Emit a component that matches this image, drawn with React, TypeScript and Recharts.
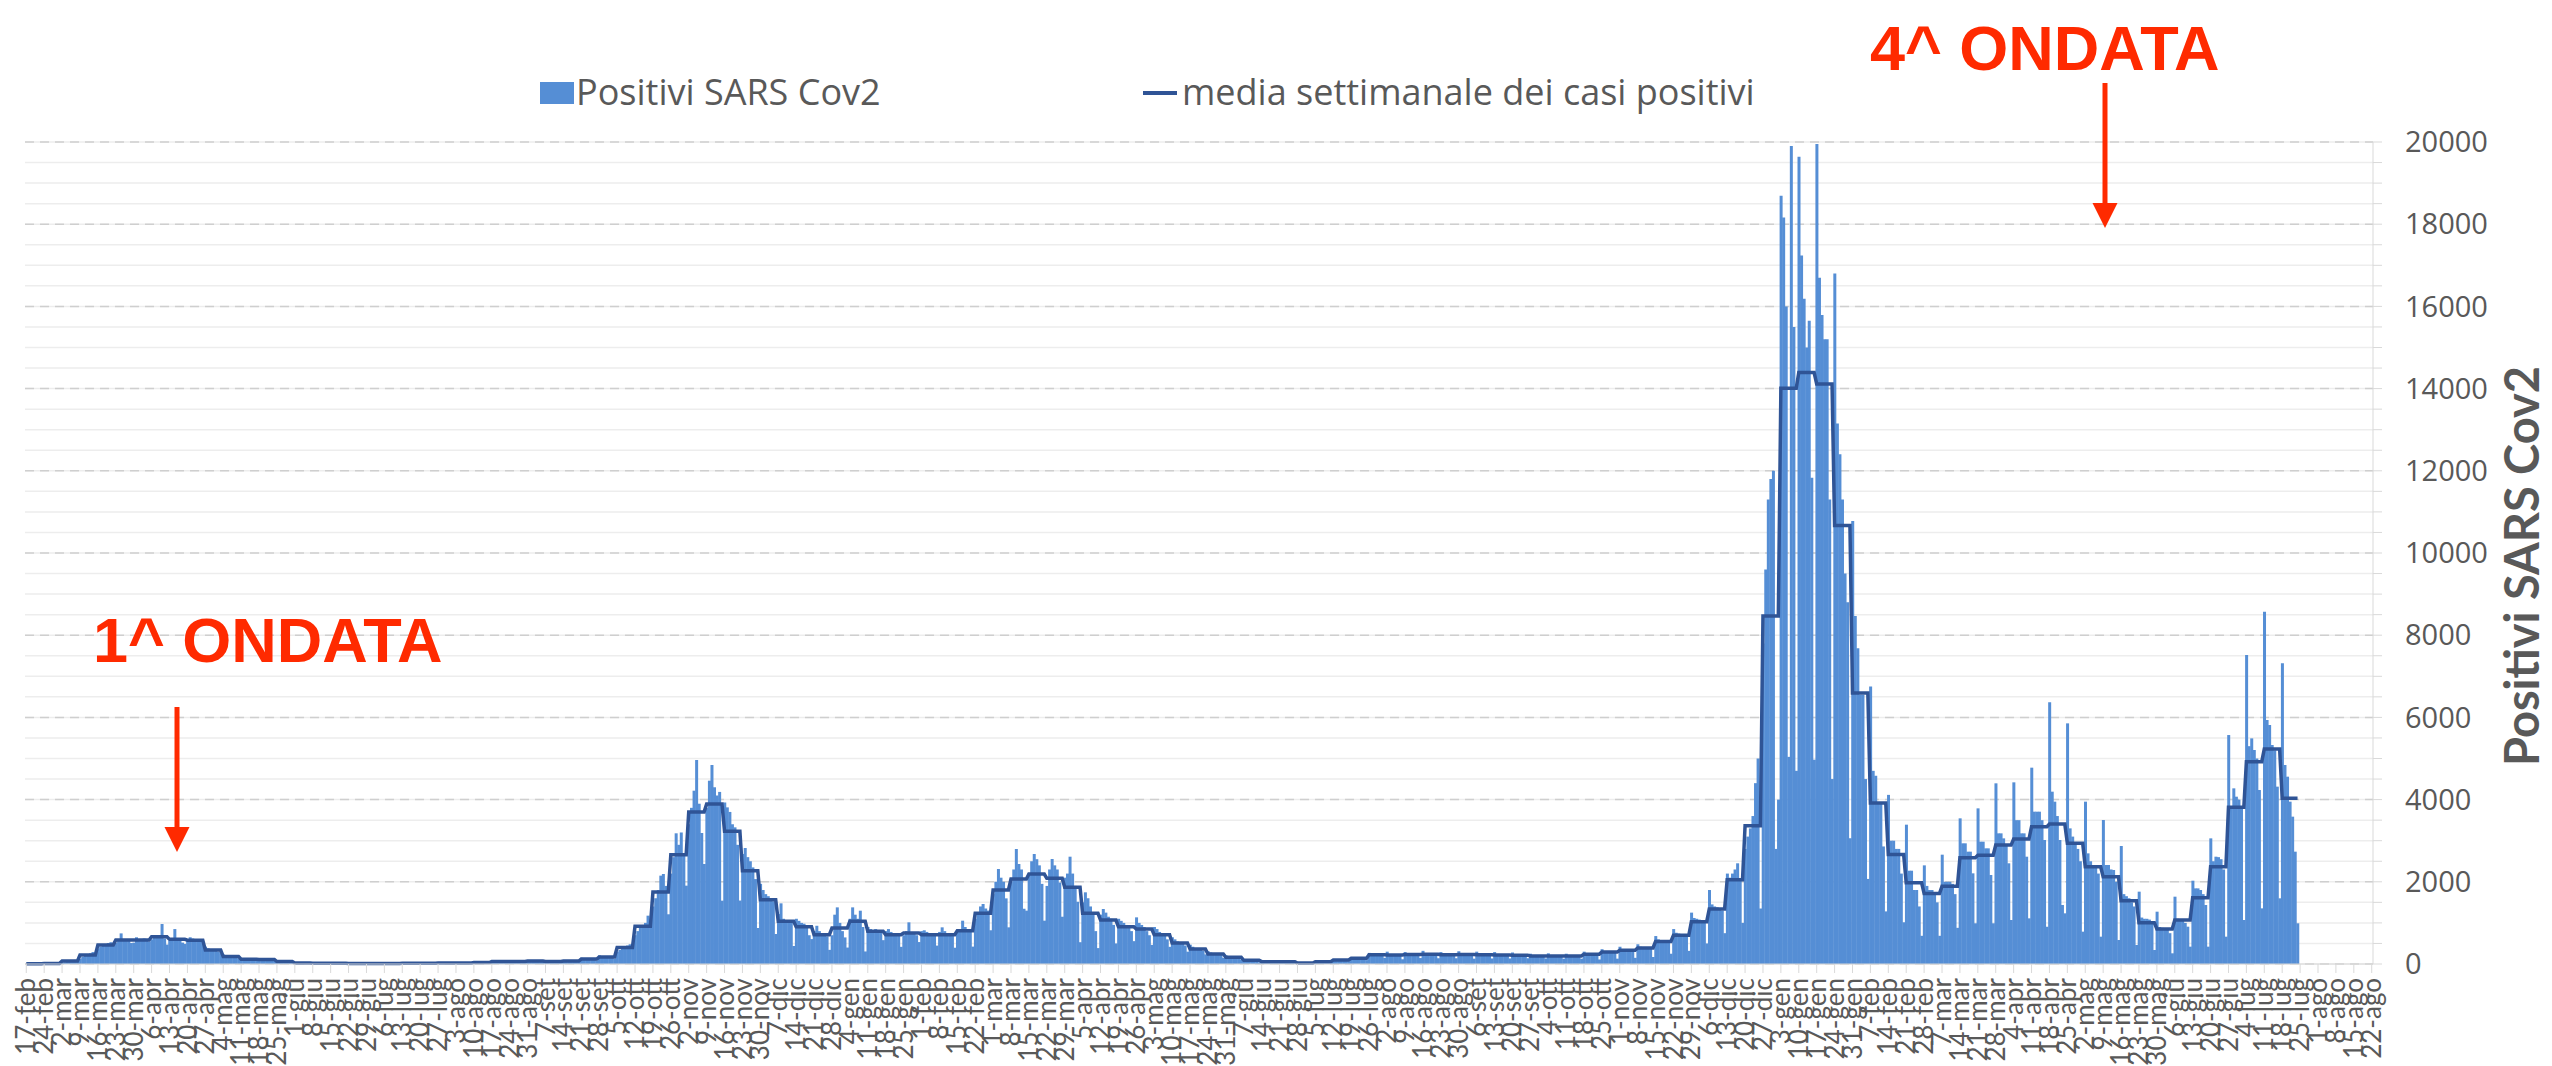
import { ComposedChart, Bar, Line, XAxis, YAxis, CartesianGrid } from 'recharts';

// positivi giornalieri, una riga per settimana (lun -> dom), dal 17-feb-2020
const positivi: number[][] = [
  [0, 0, 0, 0, 2, 5, 8],
  [8, 10, 14, 18, 20, 22, 15],
  [30, 45, 60, 75, 90, 100, 90],
  [130, 170, 200, 230, 260, 290, 260],
  [380, 420, 450, 480, 510, 530, 485],
  [520, 560, 745, 590, 600, 570, 510],
  [520, 650, 600, 560, 620, 600, 545],
  [600, 640, 700, 650, 973, 620, 472],
  [560, 620, 850, 600, 560, 520, 490],
  [600, 650, 620, 600, 560, 540, 490],
  [420, 380, 360, 340, 320, 300, 260],
  [230, 200, 190, 180, 170, 160, 130],
  [140, 130, 120, 115, 110, 100, 90],
  [130, 120, 115, 110, 105, 100, 90],
  [80, 70, 65, 60, 55, 50, 40],
  [35, 30, 25, 25, 22, 20, 18],
  [28, 24, 20, 18, 18, 16, 14],
  [25, 20, 18, 16, 16, 15, 12],
  [20, 18, 15, 14, 14, 13, 10],
  [22, 17, 15, 14, 13, 12, 10],
  [20, 18, 16, 14, 13, 12, 10],
  [24, 20, 18, 17, 16, 15, 12],
  [26, 22, 20, 19, 18, 17, 14],
  [30, 24, 22, 21, 20, 19, 16],
  [34, 28, 25, 24, 22, 21, 18],
  [45, 40, 36, 34, 32, 30, 28],
  [75, 65, 62, 60, 57, 55, 46],
  [78, 66, 60, 58, 56, 55, 47],
  [90, 75, 70, 68, 66, 64, 57],
  [80, 66, 62, 58, 55, 52, 47],
  [90, 78, 72, 68, 65, 62, 55],
  [150, 130, 125, 120, 115, 110, 90],
  [210, 185, 175, 170, 165, 160, 125],
  [300, 340, 380, 410, 450, 480, 440],
  [700, 800, 880, 950, 1000, 1176, 906],
  [1400, 1600, 1800, 2150, 2190, 1900, 1210],
  [2200, 2600, 3180, 2900, 3200, 2634, 1906],
  [3400, 3800, 4217, 4963, 3900, 3187, 2433],
  [3800, 4460, 4842, 4300, 4100, 4187, 1541],
  [3930, 3811, 3700, 3400, 3325, 2900, 1544],
  [2676, 2822, 2600, 2500, 2350, 2066, 876],
  [1950, 1800, 1700, 1650, 1600, 1525, 730],
  [1216, 1476, 1100, 1050, 1000, 1000, 438],
  [1100, 1050, 1000, 980, 920, 700, 606],
  [800, 930, 800, 750, 700, 674, 344],
  [700, 1200, 1378, 1000, 800, 647, 400],
  [1100, 1378, 1200, 1100, 1297, 900, 305],
  [900, 850, 820, 850, 800, 765, 580],
  [800, 850, 780, 750, 700, 700, 418],
  [700, 800, 1014, 780, 750, 700, 534],
  [800, 820, 780, 750, 700, 700, 448],
  [780, 892, 800, 750, 700, 680, 396],
  [800, 850, 1054, 900, 850, 800, 423],
  [1100, 1200, 1400, 1460, 1350, 1300, 821],
  [1700, 2000, 2311, 2100, 2000, 1597, 892],
  [2000, 2300, 2798, 2433, 2300, 1347, 1298],
  [2200, 2500, 2676, 2550, 2400, 1950, 1054],
  [1900, 2300, 2555, 2400, 2300, 1983, 1150],
  [2100, 2200, 2611, 2200, 1900, 1514, 530],
  [1500, 1744, 1600, 1400, 1200, 800, 387],
  [1200, 1338, 1250, 1150, 1100, 952, 500],
  [1100, 1050, 1000, 950, 900, 800, 556],
  [1135, 1000, 950, 900, 800, 700, 465],
  [900, 850, 780, 750, 700, 600, 418],
  [650, 600, 550, 520, 500, 450, 300],
  [470, 420, 390, 370, 350, 320, 235],
  [310, 280, 260, 245, 235, 220, 151],
  [210, 185, 170, 165, 155, 145, 104],
  [120, 100, 95, 90, 85, 80, 40],
  [80, 65, 60, 55, 55, 50, 30],
  [75, 65, 60, 55, 55, 50, 35],
  [40, 30, 25, 22, 20, 20, 15],
  [70, 60, 60, 58, 55, 55, 40],
  [120, 105, 100, 95, 95, 90, 70],
  [170, 150, 145, 140, 135, 130, 95],
  [270, 245, 240, 235, 230, 220, 150],
  [300, 240, 230, 225, 220, 210, 115],
  [290, 250, 240, 235, 230, 220, 145],
  [320, 250, 245, 240, 230, 220, 140],
  [290, 240, 235, 230, 225, 215, 140],
  [310, 250, 240, 235, 225, 220, 130],
  [300, 240, 235, 230, 220, 215, 135],
  [290, 235, 230, 225, 215, 210, 135],
  [280, 230, 225, 220, 210, 200, 140],
  [250, 210, 200, 195, 190, 185, 135],
  [260, 210, 200, 195, 190, 180, 130],
  [250, 205, 200, 195, 195, 190, 130],
  [300, 260, 250, 250, 240, 230, 110],
  [360, 310, 300, 300, 290, 280, 130],
  [420, 360, 350, 340, 330, 320, 150],
  [480, 420, 410, 400, 390, 370, 170],
  [680, 600, 580, 560, 540, 520, 250],
  [850, 760, 740, 720, 700, 660, 320],
  [1250, 1120, 1100, 1080, 1050, 1000, 500],
  [1800, 1450, 1400, 1380, 1350, 1300, 750],
  [2200, 2100, 2200, 2300, 2450, 2050, 1000],
  [2800, 3100, 3300, 3600, 4400, 5000, 1350],
  [7800, 9600, 11300, 11800, 12000, 2800, 4000],
  [18690, 18160, 16000, 5040, 19900, 15500, 4700],
  [19640, 17240, 16185, 15000, 15650, 11830, 4970],
  [19950, 16700, 15790, 15200, 15200, 11300, 4500],
  [16800, 13150, 12400, 11300, 9500, 8800, 3060],
  [10780, 8470, 7680, 6550, 6550, 4500, 2070],
  [6750, 4700, 4580, 3900, 3900, 2860, 1280],
  [4115, 3000, 3000, 2800, 2800, 2200, 1015],
  [3390, 2270, 2270, 1800, 1800, 1400, 686],
  [2400, 1900, 1800, 1800, 1750, 1500, 686],
  [2660, 2000, 2000, 2000, 1950, 1700, 880],
  [3544, 2936, 2936, 2733, 2733, 2206, 990],
  [3787, 2976, 2976, 2814, 2814, 2165, 990],
  [4396, 3179, 3179, 3057, 2900, 2450, 1070],
  [4420, 3500, 3500, 3179, 3179, 2611, 1111],
  [4777, 3706, 3706, 3706, 3500, 3017, 908],
  [6366, 4193, 3950, 3600, 3017, 1435, 1233],
  [5855, 3300, 3100, 2900, 2800, 2500, 787],
  [3950, 2692, 2500, 2409, 2409, 2200, 665],
  [3503, 2409, 2409, 2300, 2287, 2000, 584],
  [2871, 1700, 1650, 1600, 1500, 1400, 462],
  [1760, 1130, 1100, 1100, 1080, 1000, 340],
  [1273, 900, 880, 850, 850, 750, 260],
  [1638, 1100, 1050, 1050, 1000, 908, 422],
  [2027, 1840, 1840, 1800, 1700, 1435, 422],
  [3057, 2500, 2611, 2600, 2550, 2300, 665],
  [5571, 3828, 4274, 4071, 4000, 3800, 1070],
  [7518, 5300, 5490, 5207, 5000, 4233, 1354],
  [8572, 5937, 5815, 5328, 5200, 4315, 1598],
  [7315, 4842, 4558, 3950, 3585, 2733, 990],
];

// media settimanale dei casi positivi (una per settimana)
const mediaSettimanale: number[] = [
  5, 15, 70, 220, 465, 585, 585, 665, 600, 580, 340, 180, 115, 110, 60, 25, 20, 18, 15, 15,
  15, 18, 20, 22, 25, 35, 60, 60, 70, 60, 70, 120, 170, 400, 916, 1750, 2660, 3700, 3890, 3230,
  2270, 1565, 1040, 908, 714, 875, 1040, 795, 714, 754, 714, 714, 811, 1233, 1800, 2068, 2190, 2084, 1865, 1233,
  1070, 908, 850, 714, 510, 365, 243, 162, 90, 57, 57, 25, 57, 97, 138, 227, 220, 230, 235, 225,
  230, 225, 220, 215, 195, 195, 195, 240, 290, 335, 390, 550, 700, 1030, 1340, 2050, 3365, 8468, 14008, 14390,
  14113, 10670, 6595, 3917, 2664, 1979, 1715, 1890, 2585, 2645, 2893, 3041, 3341, 3406, 2936, 2368, 2125, 1541, 1006, 852,
  1070, 1614, 2368, 3812, 4923, 5231, 4031,
];

const MESI = ['gen', 'feb', 'mar', 'apr', 'mag', 'giu', 'lug', 'ago', 'set', 'ott', 'nov', 'dic'];
const INIZIO = Date.UTC(2020, 1, 17);
const GIORNI_ASSE = 918; // 17-feb-2020 .. 22-ago-2022

const yTickLabels = [0, 2000, 4000, 6000, 8000, 10000, 12000, 14000, 16000, 18000, 20000];
const yTicksMinori = [
  0, 500, 1000, 1500, 2000, 2500, 3000, 3500, 4000, 4500, 5000, 5500, 6000, 6500, 7000, 7500,
  8000, 8500, 9000, 9500, 10000, 10500, 11000, 11500, 12000, 12500, 13000, 13500, 14000, 14500,
  15000, 15500, 16000, 16500, 17000, 17500, 18000, 18500, 19000, 19500, 20000,
];

const BLU = '#558ED5';
const BLU_SCURO = '#2F5496';
const GRIGIO = '#595959';
const ROSSO = '#FF2A00';

const rows = Array.from({ length: GIORNI_ASSE }, (_, i) => {
  const d = new Date(INIZIO + i * 86400000);
  const w = Math.floor(i / 7);
  return {
    giorno: `${d.getUTCDate()}-${MESI[d.getUTCMonth()]}`,
    positivi: w < positivi.length ? positivi[w][i % 7] : null,
    media: w < mediaSettimanale.length ? mediaSettimanale[w] : null,
  };
});

const XTick = ({ x, y, payload }: any) => (
  <text
    x={x}
    y={y}
    transform={`rotate(-90, ${x}, ${y})`}
    textAnchor="end"
    dy="0.35em"
    fontFamily="Lato, sans-serif"
    fontSize={26}
    fill={GRIGIO}
  >
    {payload.value}
  </text>
);

const Overlay = () => (
  <svg
    width={2552}
    height={1066}
    style={{ position: 'absolute', left: 0, top: 0, pointerEvents: 'none' }}
  >
    {/* legenda */}
    <rect x={540} y={82} width={34} height={22} fill={BLU} />
    <text x={576} y={105} fontFamily="'Open Sans', sans-serif" fontSize={36} fill={GRIGIO}>
      Positivi SARS Cov2
    </text>
    <line x1={1143} x2={1177} y1={93} y2={93} stroke={BLU_SCURO} strokeWidth={4} />
    <text x={1182} y={105} fontFamily="'Open Sans', sans-serif" fontSize={36} fill={GRIGIO}>
      media settimanale dei casi positivi
    </text>

    {/* titolo asse destro */}
    <text
      x={2539}
      y={566}
      transform="rotate(-90, 2539, 566)"
      textAnchor="middle"
      fontFamily="Lato, sans-serif"
      fontWeight="bold"
      fontSize={47}
      fill={GRIGIO}
    >
      Positivi SARS Cov2
    </text>

    {/* annotazioni */}
    <text x={93} y={662} fontFamily="'Liberation Sans', Arial, sans-serif" fontWeight="bold" fontSize={63} fill={ROSSO}>
      1^ ONDATA
    </text>
    <line x1={177} x2={177} y1={707} y2={830} stroke={ROSSO} strokeWidth={5} />
    <polygon points="164.5,827 189.5,827 177,852" fill={ROSSO} />

    <text x={1870} y={70} fontFamily="'Liberation Sans', Arial, sans-serif" fontWeight="bold" fontSize={63} fill={ROSSO}>
      4^ ONDATA
    </text>
    <line x1={2105} x2={2105} y1={83} y2={206} stroke={ROSSO} strokeWidth={5} />
    <polygon points="2092.5,203 2117.5,203 2105,228" fill={ROSSO} />
  </svg>
);

export default function App() {
  return (
    <div style={{ position: 'absolute', left: 0, top: 0, width: 2552, height: 1066, background: '#fff' }}>
      <ComposedChart
        width={2552}
        height={1066}
        data={rows}
        margin={{ top: 142, right: 0, bottom: 0, left: 25 }}
        barCategoryGap={0}
        barGap={0}
      >
        <CartesianGrid vertical={false} stroke="#EDEDED" strokeWidth={1.5} horizontalValues={yTicksMinori} />
        <CartesianGrid
          vertical={false}
          stroke="#CFCFCF"
          strokeWidth={1.5}
          strokeDasharray="9 6"
          horizontalValues={yTickLabels}
        />
        <XAxis
          dataKey="giorno"
          interval={6}
          height={102}
          tick={<XTick />}
          tickSize={9}
          tickMargin={5}
          stroke="#D9D9D9"
          tickLine={{ stroke: '#D9D9D9' }}
        />
        <YAxis
          orientation="right"
          width={179}
          domain={[0, 20000]}
          ticks={yTicksMinori}
          interval={0}
          tickSize={9}
          tickMargin={23}
          stroke="#D9D9D9"
          tickFormatter={(v: number) => (yTickLabels.includes(v) ? String(v) : '')}
          tick={{ fontFamily: "'Open Sans', sans-serif", fontSize: 29, fill: GRIGIO }}
        />
        <Bar dataKey="positivi" name="Positivi SARS Cov2" fill={BLU} isAnimationActive={false} />
        <Line
          type="linear"
          dataKey="media"
          name="media settimanale dei casi positivi"
          stroke={BLU_SCURO}
          strokeWidth={3.5}
          dot={false}
          activeDot={false}
          isAnimationActive={false}
        />
      </ComposedChart>
      <Overlay />
    </div>
  );
}
